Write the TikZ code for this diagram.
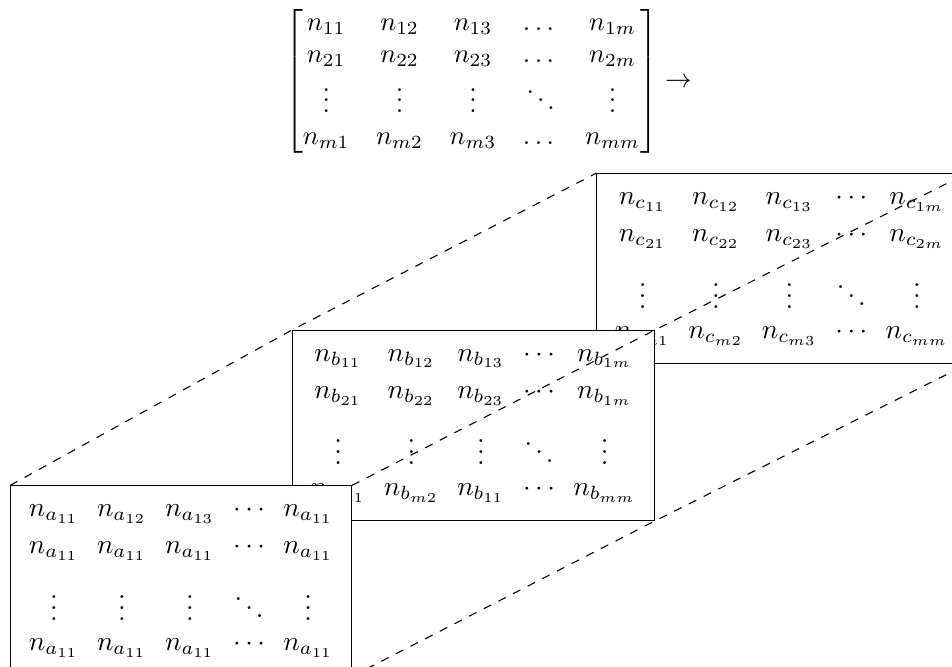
\documentclass[tikz,border=0pt]{standalone}
\usepackage{amsmath}
\usetikzlibrary{matrix}
\tikzset{
  matb/.style={matrix of math nodes, draw, fill=white, anchor=north west},
  proj/.style={dashed},
}
\begin{document}
\begin{tikzpicture}
  \useasboundingbox (0,0) rectangle (12.2,8.54);
  % full matrix with the arrow
  \node[scale=0.97] (top) at (6.26,7.5)
    {$\begin{bmatrix}
      n_{11} & n_{12} & n_{13} & \dots & n_{1m}\\
      n_{21} & n_{22} & n_{23} & \dots & n_{2m}\\
      \vdots & \vdots & \vdots & \ddots & \vdots\\
      n_{m1} & n_{m2} & n_{m3} & \dots & n_{mm}
    \end{bmatrix} \rightarrow$};
  % stacked slices, back to front
  \matrix[matb] (c) at (7.64,6.32) {
    n_{c_{11}} & n_{c_{12}} & n_{c_{13}} & \cdots & n_{c_{1m}}\\
    n_{c_{21}} & n_{c_{22}} & n_{c_{23}} & \cdots & n_{c_{2m}}\\
    \vdots & \vdots & \vdots & \ddots & \vdots\\
    n_{c_{m1}} & n_{c_{m2}} & n_{c_{m3}} & \cdots & n_{c_{mm}}\\
  };
  \matrix[matb] (b) at (3.74,4.31) {
    n_{b_{11}} & n_{b_{12}} & n_{b_{13}} & \cdots & n_{b_{1m}}\\
    n_{b_{21}} & n_{b_{22}} & n_{b_{23}} & \cdots & n_{b_{1m}}\\
    \vdots & \vdots & \vdots & \ddots & \vdots\\
    n_{b_{m1}} & n_{b_{m2}} & n_{b_{11}} & \cdots & n_{b_{mm}}\\
  };
  \matrix[matb] (a) at (0.13,2.32) {
    n_{a_{11}} & n_{a_{12}} & n_{a_{13}} & \cdots & n_{a_{11}}\\
    n_{a_{11}} & n_{a_{11}} & n_{a_{11}} & \cdots & n_{a_{11}}\\
    \vdots & \vdots & \vdots & \ddots & \vdots\\
    n_{a_{11}} & n_{a_{11}} & n_{a_{11}} & \cdots & n_{a_{11}}\\
  };
  % dashed edges joining the corners
  \draw[proj] (a.north west) -- (b.north west) -- (c.north west);
  \draw[proj] (a.north east) -- (b.north east) -- (c.north east);
  \draw[proj] (a.south east) -- (b.south east) -- (c.south east);
\end{tikzpicture}
\end{document}
